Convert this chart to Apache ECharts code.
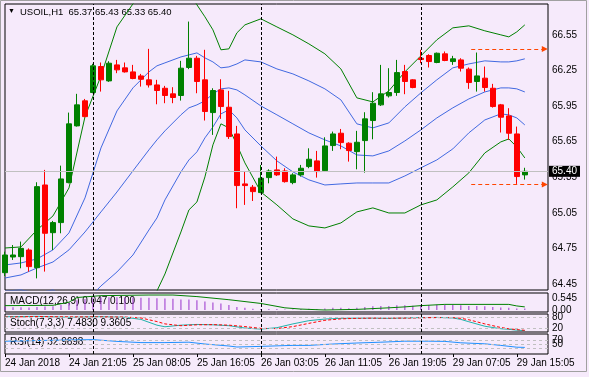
<!DOCTYPE html>
<html>
<head>
<meta charset="utf-8">
<script src="https://cdn.jsdelivr.net/npm/echarts@6/dist/echarts.min.js"></script>
<style>
html, body { margin: 0; padding: 0; background: #f6eafb; }
#chart { width: 589px; height: 377px; }
</style>
</head>
<body>
<div id="chart"></div>
<script>
// USOIL H1 candles, bar 0 = 24 Jan 13:05
const opens  = [64.546,64.678,64.681,64.737,64.588,65.285,64.883,64.968,65.305,65.783,65.994,66.064,66.283,66.162,66.297,66.272,66.238,66.204,66.171,66.128,66.100,66.053,66.039,66.275,66.353,66.171,65.895,66.086,65.940,65.715,65.294,65.266,65.221,65.347,65.412,65.403,65.305,65.370,65.440,65.488,65.406,65.617,65.721,65.637,65.566,65.659,65.828,65.960,66.036,66.064,66.241,66.171,66.353,66.376,66.317,66.390,66.325,66.339,66.261,66.157,66.185,66.100,65.960,65.867,65.715,65.37];
const highs  = [64.723,64.779,64.808,64.751,65.308,65.412,64.982,65.448,65.895,66.053,66.010,66.306,66.317,66.328,66.339,66.317,66.297,66.221,66.432,66.171,66.120,66.109,66.331,66.662,66.373,66.424,66.100,66.176,66.078,65.783,65.403,65.285,65.454,65.417,65.524,65.426,65.384,65.454,65.594,65.572,65.687,65.735,65.757,65.645,65.741,65.898,66.067,66.297,66.269,66.339,66.297,66.176,66.424,66.387,66.401,66.410,66.373,66.353,66.275,66.401,66.283,66.137,65.968,65.932,65.777,65.43];
const lows   = [64.518,64.653,64.583,64.555,64.498,64.555,64.737,64.878,65.299,65.777,65.856,66.058,66.072,66.154,66.227,66.232,66.176,66.114,66.106,65.965,65.974,65.974,65.996,66.261,66.058,65.828,65.707,65.842,65.673,65.089,65.117,65.150,65.215,65.299,65.361,65.305,65.291,65.356,65.426,65.347,65.403,65.572,65.586,65.482,65.417,65.389,65.670,65.951,66.022,66.036,66.050,66.100,66.311,66.275,66.311,66.328,66.297,66.241,66.095,66.072,66.072,65.937,65.727,65.665,65.294,65.33];
const closes = [64.695,64.695,64.751,64.597,65.271,64.878,64.968,65.336,65.800,65.960,65.861,66.289,66.171,66.311,66.255,66.238,66.182,66.176,66.128,66.081,66.039,66.022,66.269,66.353,66.157,65.904,66.081,65.946,65.693,65.280,65.280,65.229,65.342,65.403,65.370,65.313,65.370,65.426,65.502,65.398,65.614,65.715,65.642,65.575,65.645,65.842,65.974,66.053,66.064,66.232,66.157,66.106,66.342,66.325,66.395,66.334,66.348,66.269,66.148,66.204,66.106,65.946,65.856,65.721,65.356,65.40];

// Bollinger lines at these bars
const bandBars = [0,2,4,6,8,10,12,14,16,18,19,20,22,23,24,25,26,27,28,29,30,32,34,36,38,40,42,44,46,48,50,52,54,56,58,60,62,63,64,65];
const outerUpper = [64.754,64.763,64.906,65.024,65.260,65.859,66.204,66.617,66.811,66.971,67.014,67.056,67.014,66.912,66.803,66.702,66.592,66.424,66.432,66.567,66.634,66.685,66.617,66.550,66.474,66.390,66.263,66.019,65.985,66.078,66.238,66.373,66.508,66.609,66.626,66.584,66.550,66.533,66.575,66.634];
const innerUpper = [64.611,64.628,64.662,64.738,64.881,65.176,65.597,65.909,66.103,66.238,66.289,66.314,66.364,66.381,66.398,66.356,66.322,66.272,66.280,66.305,66.339,66.322,66.263,66.221,66.162,66.095,66.002,65.800,65.766,65.808,65.943,66.061,66.171,66.272,66.305,66.331,66.322,66.322,66.331,66.348];
const middle     = [64.501,64.527,64.586,64.636,64.738,64.889,65.058,65.226,65.404,65.581,65.665,65.741,65.876,65.935,65.960,65.994,66.053,66.095,66.103,66.086,66.044,65.951,65.876,65.800,65.724,65.665,65.614,65.538,65.530,65.572,65.656,65.749,65.850,65.935,66.010,66.069,66.103,66.103,66.095,66.069];
const innerLower = [64.392,64.400,64.375,64.400,64.333,64.299,64.434,64.552,64.695,64.906,65.007,65.159,65.395,65.496,65.564,65.682,65.774,65.884,65.918,65.850,65.749,65.614,65.488,65.395,65.328,65.285,65.294,65.302,65.302,65.302,65.361,65.429,65.496,65.589,65.724,65.833,65.884,65.876,65.850,65.791];
const outerLower = [64.249,64.232,64.164,64.063,63.810,63.557,63.557,63.726,63.979,64.232,64.392,64.535,64.889,65.075,65.142,65.353,65.623,65.800,65.766,65.623,65.471,65.226,65.117,64.999,64.940,64.923,64.965,65.058,65.092,65.049,65.049,65.117,65.159,65.269,65.387,65.555,65.648,65.673,65.606,65.513];

// MACD(12,26,9): main as histogram (one bar per candle), signal line
const macdMain = [0.10,0.09,0.09,0.08,0.10,0.11,0.12,0.16,0.24,0.31,0.35,0.39,0.40,0.41,0.41,0.40,0.40,0.39,0.39,0.38,0.37,0.36,0.34,0.34,0.31,0.27,0.24,0.21,0.16,0.10,0.07,0.04,0.03,0.03,0.03,0.02,0.02,0.03,0.04,0.03,0.05,0.07,0.07,0.06,0.07,0.10,0.12,0.13,0.13,0.15,0.15,0.14,0.16,0.16,0.17,0.17,0.16,0.15,0.13,0.13,0.12,0.10,0.08,0.07,0.05,0.047];
const sigBars = [0,6,8,9,12,18,21,24,28,32,35,37,40,44,48,50,52,55,63,64,65];
const macdSignal = [0.14,0.15,0.25,0.40,0.46,0.48,0.48,0.43,0.33,0.21,0.07,0.03,0.0,0.02,0.07,0.10,0.14,0.18,0.18,0.13,0.10];

// Stochastic(7,3,3)
const stochBars = [0,4,8,12,15,17,19,20,22,24,26,28,30,32,34,36,38,40,42,44,46,48,50,52,54,56,57,58,60,62,63,64,65];
const stochMain   = [85,87,82,85,82,70,38,29,38,42,40,35,22,16,24,45,63,72,76,77,77,76,78,80,81,78,70,57,32,18,15,10,7.483];
const stochSignal = [83,86,84,84,83,78,58,45,35,40,41,38,30,20,19,30,48,65,73,76,77,77,77,79,80,80,76,68,45,25,18,13,9.3605];

// RSI(14)
const rsiBars = [0,5,11,14,17,20,23,25,28,29,32,35,36,38,41,44,47,50,53,55,57,60,62,64,65];
const rsiVals = [64,68,72,63,57,57,59,50,40,35,38,42,43,43,50,55,59,64,64,63,56,51,43,34,32.9698];

const tickBars = [0,8,16,24,32,40,48,56,64];
const tickLabels = ['24 Jan 2018','24 Jan 21:05','25 Jan 08:05','25 Jan 16:05','26 Jan 03:05','26 Jan 11:05','26 Jan 19:05','29 Jan 07:05','29 Jan 15:05'];
const daySeparators = [11, 32, 52];
const priceTicks = [64.45,64.75,65.05,65.35,65.65,65.95,66.25,66.55];
const lastPrice = 65.40;
const levelLines = [66.43, 65.29];
const levelFrom = 58.3, levelTo = 67.5;

const FONT = 'Liberation Sans';
const BG = '#f6eafb';
const XMAX = 67.9;

let C = {};
let V = { dom: document.querySelector('#chart') };

C.init = function(){
  V.render();
};

V.pairs = function(xs, ys){
  return xs.map((x, i) => [x, ys[i]]);
};

V.seps = function(){
  return daySeparators.map(k => ({ xAxis: k, lineStyle: { color: '#000', type: [3, 2], width: 1 }, label: { show: false } }));
};

V.levels = function(vals){
  return vals.map(v => ({ yAxis: v, lineStyle: { color: '#c0c0c0', type: [3, 3], width: 1 }, label: { show: false } }));
};

V.xAxis = function(idx, withLabels){
  return {
    type: 'value', gridIndex: idx, min: 0, max: XMAX,
    axisLine: { show: false },
    splitLine: { show: false },
    axisTick: withLabels ? { show: true, length: 3, lineStyle: { color: '#000' }, customValues: tickBars } : { show: false },
    axisLabel: withLabels ? {
      show: true, customValues: tickBars, align: 'left', margin: 4,
      color: '#000', fontFamily: FONT, fontSize: 10,
      formatter: v => tickLabels[tickBars.indexOf(Math.round(v))] || ''
    } : { show: false }
  };
};

V.yAxis = function(idx, min, max, ticks, fmt, valign){
  return {
    type: 'value', gridIndex: idx, position: 'right', min: min, max: max,
    axisLine: { show: false }, splitLine: { show: false },
    axisTick: { show: false },
    axisLabel: {
      customValues: ticks, margin: 4, color: '#000', verticalAlign: valign || 'middle',
      fontFamily: FONT, fontSize: 10, formatter: fmt
    }
  };
};

V.band = function(vals, color){
  return {
    type: 'line', xAxisIndex: 0, yAxisIndex: 0,
    data: V.pairs(bandBars, vals), symbol: 'none', clip: true,
    lineStyle: { color: color, width: 1 }, silent: true, z: 3
  };
};

V.render = function(){
  let chart = echarts.init(V.dom, null, { renderer: 'canvas' });
  let gridBase = { left: 5, width: 543, show: true, borderColor: '#000', borderWidth: 1, backgroundColor: 'transparent' };
  let candles = opens.map((o, i) => [i, o, closes[i], lows[i], highs[i]]);
  let macdMin = -0.064, macdMax = 0.545;

  let option = {
    backgroundColor: BG,
    animation: false,
    grid: [
      Object.assign({ top: 4, height: 286 }, gridBase),
      Object.assign({ top: 293, height: 19 }, gridBase),
      Object.assign({ top: 314, height: 18 }, gridBase),
      Object.assign({ top: 334, height: 20 }, gridBase)
    ],
    xAxis: [V.xAxis(0, false), V.xAxis(1, false), V.xAxis(2, false), V.xAxis(3, true)],
    yAxis: [
      V.yAxis(0, 64.40, 66.81, priceTicks, v => v.toFixed(2)),
      V.yAxis(1, macdMin, macdMax, [macdMax], v => v.toFixed(3), 'top'),
      V.yAxis(2, 0, 100, [100, 80, 20], v => String(v)),
      V.yAxis(3, 0, 100, [100, 70, 50, 30], v => String(v)),
      V.yAxis(1, macdMin, macdMax, [0.093, 0], v => v === 0 ? '0.00' : v.toFixed(3))
    ],
    graphic: [
      { type: 'rect', shape: { x: 0.5, y: 0.5, width: 586, height: 371 }, style: { fill: 'none', stroke: '#a0a0a0' }, silent: true },
      { type: 'text', left: 8, top: 8, style: { text: '▼', fontSize: 7, fill: '#000' } },
      { type: 'text', left: 20, top: 7, style: { text: 'USOIL,H1  65.37 65.43 65.33 65.40', fontFamily: FONT, fontSize: 9.5, fill: '#000' } },
      { type: 'text', left: 10, top: 296, style: { text: 'MACD(12,26,9) 0.047 0.100', fontFamily: FONT, fontSize: 10, fill: '#000' } },
      { type: 'text', left: 10, top: 318, style: { text: 'Stoch(7,3,3) 7.4830 9.3605', fontFamily: FONT, fontSize: 10, fill: '#000' } },
      { type: 'text', left: 10, top: 337, style: { text: 'RSI(14) 32.9698', fontFamily: FONT, fontSize: 10, fill: '#000' } }
    ],
    series: [
      V.band(outerUpper, '#008000'),
      V.band(innerUpper, '#4169e1'),
      V.band(middle, '#4169e1'),
      V.band(innerLower, '#4169e1'),
      V.band(outerLower, '#008000'),
      {
        type: 'candlestick', xAxisIndex: 0, yAxisIndex: 0,
        data: candles, encode: { x: 0, y: [1, 2, 3, 4] },
        barWidth: 5, clip: true, z: 4,
        itemStyle: { color: '#008000', color0: '#ff0000', borderColor: '#008000', borderColor0: '#ff0000', borderWidth: 1 },
        markLine: {
          silent: true, symbol: 'none', animation: false,
          data: [
            {
              yAxis: lastPrice,
              lineStyle: { color: '#c0c0c0', type: 'solid', width: 1 },
              label: { show: true, position: 'end', distance: 1, formatter: lastPrice.toFixed(2),
                backgroundColor: '#000', color: '#fff', fontFamily: FONT, fontSize: 10, padding: [1, 3, 0, 3] }
            }
          ].concat(V.seps()).concat(levelLines.map(v => [
            { coord: [levelFrom, v], symbol: 'none' },
            { coord: [levelTo, v], symbol: 'triangle', symbolSize: [6, 6], symbolRotate: -90 }
          ].map(p => Object.assign(p, { lineStyle: { color: '#ff4500', type: [4, 3], width: 1 }, label: { show: false } }))))
        }
      },
      {
        type: 'bar', xAxisIndex: 1, yAxisIndex: 1,
        data: macdMain.map((v, i) => [i, v]), barWidth: 1,
        itemStyle: { color: '#9932cc' }, silent: true,
        markLine: { silent: true, symbol: 'none', animation: false, data: V.seps() }
      },
      {
        type: 'line', xAxisIndex: 1, yAxisIndex: 1,
        data: V.pairs(sigBars, macdSignal), symbol: 'none',
        lineStyle: { color: '#008000', width: 1 }, silent: true
      },
      {
        type: 'line', xAxisIndex: 2, yAxisIndex: 2,
        data: V.pairs(stochBars, stochMain), symbol: 'none',
        lineStyle: { color: '#20b2aa', width: 1 }, silent: true,
        markLine: { silent: true, symbol: 'none', animation: false, data: V.levels([80, 20]).concat(V.seps()) }
      },
      {
        type: 'line', xAxisIndex: 2, yAxisIndex: 2,
        data: V.pairs(stochBars, stochSignal), symbol: 'none',
        lineStyle: { color: '#ff0000', width: 1, type: [3, 2] }, silent: true
      },
      {
        type: 'line', xAxisIndex: 3, yAxisIndex: 3,
        data: V.pairs(rsiBars, rsiVals), symbol: 'none',
        lineStyle: { color: '#1e90ff', width: 1 }, silent: true,
        markLine: { silent: true, symbol: 'none', animation: false, data: V.levels([70, 50, 30]).concat(V.seps()) }
      }
    ]
  };

  chart.setOption(option);
};

C.init();
</script>
</body>
</html>
